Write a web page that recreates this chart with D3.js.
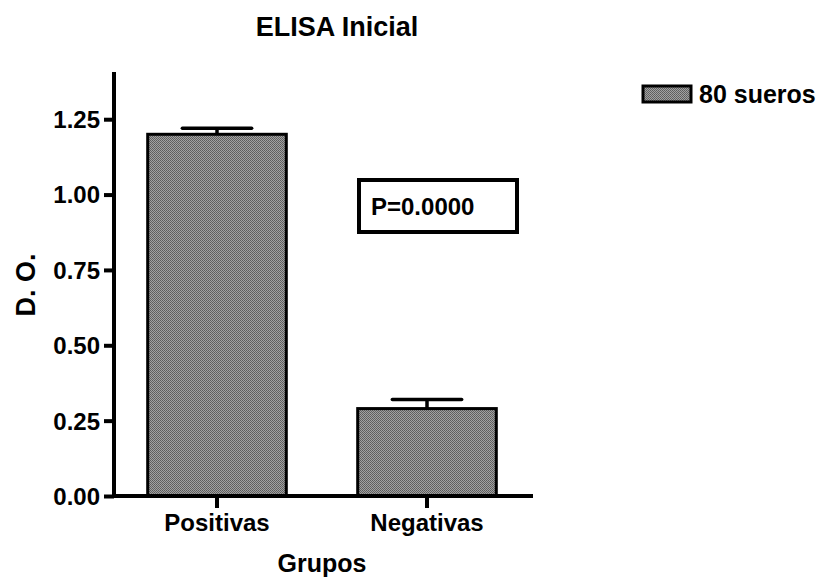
<!DOCTYPE html>
<html>
<head>
<meta charset="utf-8">
<script src="https://cdn.jsdelivr.net/npm/d3@7"></script>
<style>
  html, body { margin: 0; padding: 0; background: #fff; }
  svg { display: block; font-family: "Liberation Sans", Arial, sans-serif; font-weight: bold; }
</style>
</head>
<body>
<svg id="chart" width="833" height="581"></svg>
<script>
// Optical density by group (80 sera)
const categories = ["Positivas", "Negativas"];
const means = [1.20, 0.29];
const sems = [0.02, 0.03];
const yTicks = [0.00, 0.25, 0.50, 0.75, 1.00, 1.25];
const seriesName = "80 sueros";
const pLabel = "P=0.0000";

const svg = d3.select("#chart");

// Stippled gray fill used for bars and legend swatch
const defs = svg.append("defs");
const pat = defs.append("pattern")
  .attr("id", "stipple").attr("patternUnits", "userSpaceOnUse")
  .attr("width", 2).attr("height", 2);
pat.append("rect").attr("width", 2).attr("height", 2).attr("fill", "#a2a2a2");
pat.append("rect").attr("x", 0).attr("y", 0).attr("width", 1).attr("height", 1).attr("fill", "#5c5c5c");
pat.append("rect").attr("x", 1).attr("y", 1).attr("width", 1).attr("height", 1).attr("fill", "#646464");

const y = d3.scaleLinear().domain([0, 1.4]).range([496, 74]);
const x = d3.scaleBand().domain(categories).range([112, 532]).padding(0);
const barW = x.bandwidth() * 0.66;
const cx = d => x(d) + x.bandwidth() / 2;

// Bars
svg.append("g").selectAll("rect").data(categories).join("rect")
  .attr("x", d => cx(d) - barW / 2)
  .attr("y", (d, i) => y(means[i]))
  .attr("width", barW)
  .attr("height", (d, i) => y(0) - y(means[i]))
  .attr("fill", "url(#stipple)")
  .attr("stroke", "#000").attr("stroke-width", 3);

// Error bars (upper only)
const eb = svg.append("g").attr("stroke", "#000").attr("stroke-width", 3.5);
categories.forEach((c, i) => {
  eb.append("line").attr("x1", cx(c)).attr("x2", cx(c))
    .attr("y1", y(means[i])).attr("y2", y(means[i] + sems[i]));
  eb.append("line").attr("x1", cx(c) - barW / 4).attr("x2", cx(c) + barW / 4)
    .attr("y1", y(means[i] + sems[i])).attr("y2", y(means[i] + sems[i]))
    .attr("stroke-linecap", "round");
});

// Y axis
const yAxis = svg.append("g").attr("transform", "translate(114,0)")
  .call(d3.axisLeft(y).tickValues(yTicks).tickFormat(d3.format(".2f")).tickSize(10).tickPadding(4));
yAxis.select(".domain").attr("d", `M0,${y(1.4) - 2}V${y(0) + 2}`).attr("stroke-width", 4);
yAxis.selectAll(".tick line").attr("stroke-width", 4);
yAxis.selectAll(".tick text").attr("font-size", 24).attr("font-weight", "bold")
  .attr("font-family", "Liberation Sans, Arial, sans-serif").attr("fill", "#000").attr("dy", "0.35em");

// X axis
const xAxis = svg.append("g").attr("transform", `translate(0,${y(0)})`)
  .call(d3.axisBottom(x).tickSize(12).tickPadding(6));
xAxis.select(".domain").attr("d", `M112,0H533`).attr("stroke-width", 4);
xAxis.selectAll(".tick line").attr("stroke-width", 4);
xAxis.selectAll(".tick text").attr("font-size", 24).attr("font-weight", "bold")
  .attr("font-family", "Liberation Sans, Arial, sans-serif").attr("fill", "#000");

// Titles
svg.append("text").attr("x", 337).attr("y", 36).attr("text-anchor", "middle")
  .attr("font-size", 27).text("ELISA Inicial");
svg.append("text").attr("x", 322).attr("y", 572).attr("text-anchor", "middle")
  .attr("font-size", 25).text("Grupos");
svg.append("text").attr("transform", "translate(35,285) rotate(-90)")
  .attr("text-anchor", "middle").attr("font-size", 27).text("D. O.");

// P-value annotation box
svg.append("rect").attr("x", 359).attr("y", 180).attr("width", 158).attr("height", 52)
  .attr("fill", "#fff").attr("stroke", "#000").attr("stroke-width", 4);
svg.append("text").attr("x", 371).attr("y", 215).attr("font-size", 24).text(pLabel);

// Legend
const lg = svg.append("g");
lg.append("rect").attr("x", 643).attr("y", 86).attr("width", 48).attr("height", 16)
  .attr("fill", "url(#stipple)").attr("stroke", "#000").attr("stroke-width", 3);
lg.append("text").attr("x", 699).attr("y", 103).attr("font-size", 25).text(seriesName);
</script>
</body>
</html>
